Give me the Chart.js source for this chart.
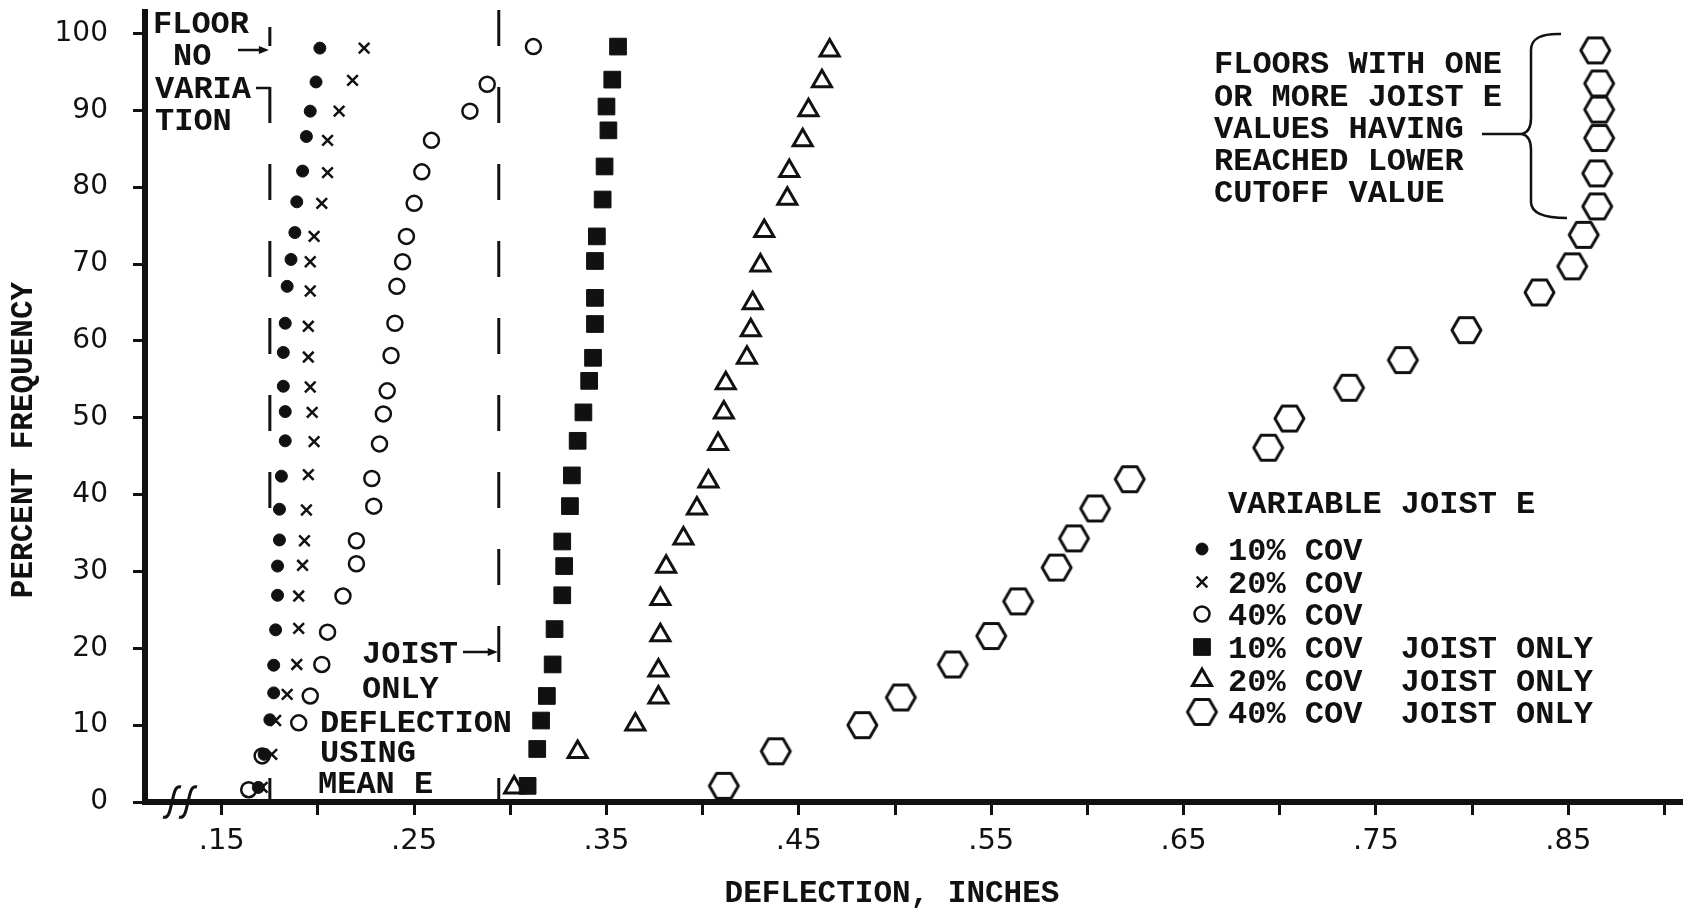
<!DOCTYPE html>
<html>
<head>
<meta charset="utf-8">
<title>Deflection distribution</title>
<script src="https://cdn.jsdelivr.net/npm/chart.js@4.4.0/dist/chart.umd.min.js"></script>
<style>
  html, body { margin: 0; padding: 0; background: #fff; overflow: hidden; }
  canvas { display: block; }
</style>
</head>
<body>
<canvas id="chart" width="1683" height="908"></canvas>
<script>
// deflection (inches) and percent frequency, bottom point first
var cov10X = [0.169, 0.172, 0.175, 0.177, 0.177, 0.178, 0.179, 0.179, 0.180, 0.180, 0.181, 0.183, 0.183, 0.182, 0.182, 0.183, 0.184, 0.186, 0.188, 0.189, 0.192, 0.194, 0.196, 0.199, 0.201];
var cov10Y = [1.9, 6.2, 10.7, 14.2, 17.8, 22.4, 26.9, 30.7, 34.1, 38.1, 42.4, 47.0, 50.8, 54.1, 58.5, 62.3, 67.1, 70.6, 74.1, 78.1, 82.1, 86.6, 89.9, 93.7, 98.1];

var cov20X = [0.171, 0.176, 0.178, 0.184, 0.189, 0.190, 0.190, 0.192, 0.193, 0.194, 0.195, 0.198, 0.197, 0.196, 0.195, 0.195, 0.196, 0.196, 0.198, 0.202, 0.205, 0.205, 0.211, 0.218, 0.224];
var cov20Y = [1.9, 6.2, 10.6, 14.0, 17.9, 22.6, 26.8, 30.8, 34.0, 38.0, 42.6, 46.9, 50.7, 54.0, 57.9, 61.9, 66.5, 70.3, 73.6, 77.9, 81.9, 86.1, 89.9, 93.9, 98.1];

var cov40X = [0.164, 0.171, 0.190, 0.196, 0.202, 0.205, 0.213, 0.220, 0.220, 0.229, 0.228, 0.232, 0.234, 0.236, 0.238, 0.240, 0.241, 0.244, 0.246, 0.250, 0.254, 0.259, 0.279, 0.288, 0.312];
var cov40Y = [1.6, 6.0, 10.3, 13.8, 17.9, 22.1, 26.8, 31.0, 34.0, 38.5, 42.1, 46.6, 50.5, 53.5, 58.1, 62.3, 67.1, 70.3, 73.6, 77.9, 82.0, 86.1, 89.9, 93.4, 98.3];

var joist10X = [0.309, 0.314, 0.316, 0.319, 0.322, 0.323, 0.327, 0.328, 0.327, 0.331, 0.332, 0.335, 0.338, 0.341, 0.343, 0.344, 0.344, 0.344, 0.345, 0.348, 0.349, 0.351, 0.350, 0.353, 0.356];
var joist10Y = [2.1, 6.9, 10.6, 13.8, 17.9, 22.5, 26.9, 30.7, 33.9, 38.5, 42.5, 47.0, 50.7, 54.8, 57.8, 62.2, 65.6, 70.4, 73.6, 78.4, 82.7, 87.4, 90.5, 94.0, 98.3];

var joist20X = [0.302, 0.335, 0.365, 0.377, 0.377, 0.378, 0.378, 0.381, 0.390, 0.397, 0.403, 0.408, 0.411, 0.412, 0.423, 0.425, 0.426, 0.430, 0.432, 0.444, 0.445, 0.452, 0.455, 0.462, 0.466];
var joist20Y = [1.9, 6.5, 10.1, 13.6, 17.1, 21.7, 26.4, 30.6, 34.3, 38.2, 41.7, 46.6, 50.7, 54.5, 57.8, 61.4, 64.9, 69.8, 74.3, 78.5, 82.1, 86.1, 90.0, 93.8, 97.8];

var joist40X = [0.411, 0.438, 0.483, 0.503, 0.530, 0.550, 0.564, 0.584, 0.593, 0.604, 0.622, 0.694, 0.705, 0.736, 0.764, 0.797, 0.835, 0.852, 0.858, 0.865, 0.865, 0.866, 0.866, 0.866, 0.864];
var joist40Y = [2.1, 6.6, 10.0, 13.6, 17.9, 21.6, 26.1, 30.5, 34.3, 38.2, 42.0, 46.1, 49.9, 53.9, 57.5, 61.4, 66.3, 69.7, 73.8, 77.5, 81.8, 86.4, 90.1, 93.5, 97.8];

var seriesLabels = ['10% COV', '20% COV', '40% COV', '10% COV  JOIST ONLY', '20% COV  JOIST ONLY', '40% COV  JOIST ONLY'];

// deflection of the floor with no variation, and joist only with mean E
var floorNoVariation = 0.175;
var joistMeanE = 0.294;

var xTickValues = [0.15, 0.20, 0.25, 0.30, 0.35, 0.40, 0.45, 0.50, 0.55, 0.60, 0.65, 0.70, 0.75, 0.80, 0.85, 0.90];
var xTickLabels = ['.15', '', '.25', '', '.35', '', '.45', '', '.55', '', '.65', '', '.75', '', '.85', ''];
var yTickValues = [0, 10, 20, 30, 40, 50, 60, 70, 80, 90, 100];
var yTickLabels = ['0', '10', '20', '30', '40', '50', '60', '70', '80', '90', '100'];

var ink = '#111';
var typeFont = "'Liberation Mono', 'DejaVu Sans Mono', monospace";
var numFont = "'DejaVu Sans', 'Open Sans', sans-serif";

function pts(xs, ys) {
  return xs.map(function(x, i) { return { x: x, y: ys[i] }; });
}

// flat-topped hexagon marker
function hexagon(r, lw) {
  var c = document.createElement('canvas');
  c.width = Math.ceil(2 * r + 2 * lw);
  c.height = Math.ceil(Math.sqrt(3) * r + 2 * lw);
  var g = c.getContext('2d');
  var cx = c.width / 2, cy = c.height / 2;
  g.beginPath();
  for (var i = 0; i < 6; i++) {
    var a = Math.PI / 3 * i;
    var px = cx + r * Math.cos(a), py = cy + r * Math.sin(a);
    if (i === 0) g.moveTo(px, py); else g.lineTo(px, py);
  }
  g.closePath();
  g.lineWidth = lw;
  g.lineJoin = 'round';
  g.strokeStyle = ink;
  g.stroke();
  return c;
}

function arrow(ctx, x1, y, x2) {
  ctx.beginPath();
  ctx.moveTo(x1, y);
  ctx.lineTo(x2 - 6, y);
  ctx.stroke();
  ctx.beginPath();
  ctx.moveTo(x2, y);
  ctx.lineTo(x2 - 10, y - 4);
  ctx.lineTo(x2 - 10, y + 4);
  ctx.closePath();
  ctx.fill();
}

var notes = {
  id: 'notes',
  afterDatasetsDraw: function(chart) {
    var ctx = chart.ctx;
    var xs = chart.scales.x;
    var area = chart.chartArea;
    ctx.save();
    ctx.strokeStyle = ink;
    ctx.fillStyle = ink;
    ctx.lineCap = 'butt';

    // dashed reference lines
    ctx.lineWidth = 3;
    var lx = xs.getPixelForValue(floorNoVariation);
    var rx = xs.getPixelForValue(joistMeanE);
    function seg(x, a, b) { ctx.beginPath(); ctx.moveTo(x, a); ctx.lineTo(x, b); ctx.stroke(); }
    var y0;
    for (y0 = area.top - 2; y0 < 500; y0 += 77) seg(lx, Math.max(y0, 27), y0 + 36);
    for (y0 = area.top - 2; y0 < 650; y0 += 77) seg(rx, y0, y0 + 36);
    seg(lx, area.bottom - 24, area.bottom);
    seg(rx, area.bottom - 24, area.bottom);

    // arrows and leader
    ctx.lineWidth = 2.5;
    arrow(ctx, 238, 50, lx - 1);
    ctx.beginPath(); ctx.moveTo(256, 88); ctx.lineTo(lx, 88); ctx.stroke();
    arrow(ctx, 463, 652, rx - 1);

    // brace
    ctx.lineWidth = 2.5;
    ctx.beginPath();
    ctx.moveTo(1561, 34);
    ctx.quadraticCurveTo(1531, 33, 1531, 50);
    ctx.lineTo(1531, 118);
    ctx.quadraticCurveTo(1531, 132, 1522, 134);
    ctx.quadraticCurveTo(1531, 136, 1531, 150);
    ctx.lineTo(1531, 202);
    ctx.quadraticCurveTo(1531, 218, 1567, 218);
    ctx.stroke();
    ctx.beginPath(); ctx.moveTo(1482, 134); ctx.lineTo(1522, 134); ctx.stroke();

    // axis break
    ctx.lineWidth = 3;
    [172, 188].forEach(function(cx) {
      var cy = area.bottom;
      ctx.beginPath();
      ctx.moveTo(cx - 9, cy + 15);
      ctx.bezierCurveTo(cx - 3, cy + 17, cx - 2, cy + 8, cx, cy);
      ctx.bezierCurveTo(cx + 2, cy - 8, cx + 3, cy - 17, cx + 9, cy - 15);
      ctx.stroke();
    });

    // text notes
    ctx.font = 'bold 32px ' + typeFont;
    ctx.textAlign = 'left';
    ctx.textBaseline = 'alphabetic';
    var lines = [
      ['FLOOR', 153, 33], ['NO', 173, 65], ['VARIA', 155, 98], ['TION', 155, 130],
      ['JOIST', 362, 663], ['ONLY', 362, 698], ['DEFLECTION', 320, 732], ['USING', 320, 762], ['MEAN E', 318, 793],
      ['FLOORS WITH ONE', 1214, 73], ['OR MORE JOIST E', 1214, 106], ['VALUES HAVING', 1214, 138],
      ['REACHED LOWER', 1214, 170], ['CUTOFF VALUE', 1214, 202],
      ['VARIABLE JOIST E', 1228, 513]
    ];
    lines.forEach(function(l) { ctx.fillText(l[0], l[1], l[2]); });

    // legend
    var rows = [560, 593, 625, 658, 691, 723];
    chart.data.datasets.forEach(function(ds, i) {
      ctx.save();
      ctx.fillStyle = ds.backgroundColor;
      ctx.strokeStyle = ds.borderColor;
      ctx.lineWidth = ds.borderWidth;
      if (Chart.helpers && Chart.helpers.drawPoint) {
        Chart.helpers.drawPoint(ctx, {
          pointStyle: ds.pointStyle, radius: ds.pointRadius,
          borderWidth: ds.borderWidth, rotation: 0
        }, 1202, rows[i] - 11);
      }
      ctx.restore();
      ctx.fillText(ds.label, 1228, rows[i]);
    });

    // axis titles
    ctx.font = 'bold 31px ' + typeFont;
    ctx.textAlign = 'center';
    ctx.fillText('DEFLECTION, INCHES', 892, 902);
    ctx.save();
    ctx.translate(24, 440);
    ctx.rotate(-Math.PI / 2);
    ctx.textBaseline = 'middle';
    ctx.fillText('PERCENT FREQUENCY', 0, 0);
    ctx.restore();

    ctx.restore();
  }
};

var hex = hexagon(14.5, 3);

var chart = new Chart(document.getElementById('chart'), {
  type: 'scatter',
  data: {
    datasets: [
      { label: seriesLabels[0], data: pts(cov10X, cov10Y), pointStyle: 'circle', pointRadius: 6, borderWidth: 1, backgroundColor: ink, borderColor: ink },
      { label: seriesLabels[1], data: pts(cov20X, cov20Y), pointStyle: 'crossRot', pointRadius: 7.5, borderWidth: 2.5, backgroundColor: ink, borderColor: ink },
      { label: seriesLabels[2], data: pts(cov40X, cov40Y), pointStyle: 'circle', pointRadius: 7.5, borderWidth: 2.5, backgroundColor: 'rgba(255,255,255,0)', borderColor: ink },
      { label: seriesLabels[3], data: pts(joist10X, joist10Y), pointStyle: 'rect', pointRadius: 11.8, borderWidth: 1, backgroundColor: ink, borderColor: ink },
      { label: seriesLabels[4], data: pts(joist20X, joist20Y), pointStyle: 'triangle', pointRadius: 11, borderWidth: 3, backgroundColor: 'rgba(255,255,255,0)', borderColor: ink },
      { label: seriesLabels[5], data: pts(joist40X, joist40Y), pointStyle: hex, pointRadius: 15, borderWidth: 3, backgroundColor: 'rgba(255,255,255,0)', borderColor: ink }
    ]
  },
  options: {
    responsive: false,
    animation: false,
    events: [],
    layout: { autoPadding: false, padding: { top: 12, right: 0, bottom: 0, left: 0 } },
    plugins: { legend: { display: false }, tooltip: { enabled: false } },
    scales: {
      x: {
        type: 'linear',
        min: 0.1101,
        max: 0.9096,
        afterBuildTicks: function(scale) {
          scale.ticks = xTickValues.map(function(v) { return { value: v }; });
        },
        afterFit: function(scale) {
          scale.height = 106;
          scale.paddingLeft = 0;
          scale.paddingRight = 0;
        },
        border: { display: true, width: 6, color: ink },
        grid: { drawOnChartArea: false, drawTicks: true, tickLength: 13, tickWidth: 3, tickColor: ink },
        ticks: {
          autoSkip: false, maxRotation: 0, padding: 9, color: ink,
          font: { family: numFont, size: 29, lineHeight: 1.2 },
          callback: function(value, index) { return xTickLabels[index]; }
        }
      },
      y: {
        type: 'linear',
        min: 0,
        max: 102.8,
        afterBuildTicks: function(scale) {
          scale.ticks = yTickValues.map(function(v) { return { value: v }; });
        },
        afterFit: function(scale) {
          scale.width = 145;
          scale.paddingTop = 0;
          scale.paddingBottom = 0;
        },
        border: { display: true, width: 6, color: ink },
        grid: { drawOnChartArea: false, drawTicks: true, tickLength: 12, tickWidth: 3, tickColor: ink },
        ticks: {
          padding: 25, color: ink,
          font: { family: numFont, size: 28, lineHeight: 1.2 },
          callback: function(value, index) { return yTickLabels[index]; }
        }
      }
    }
  },
  plugins: [notes]
});
</script>
</body>
</html>
